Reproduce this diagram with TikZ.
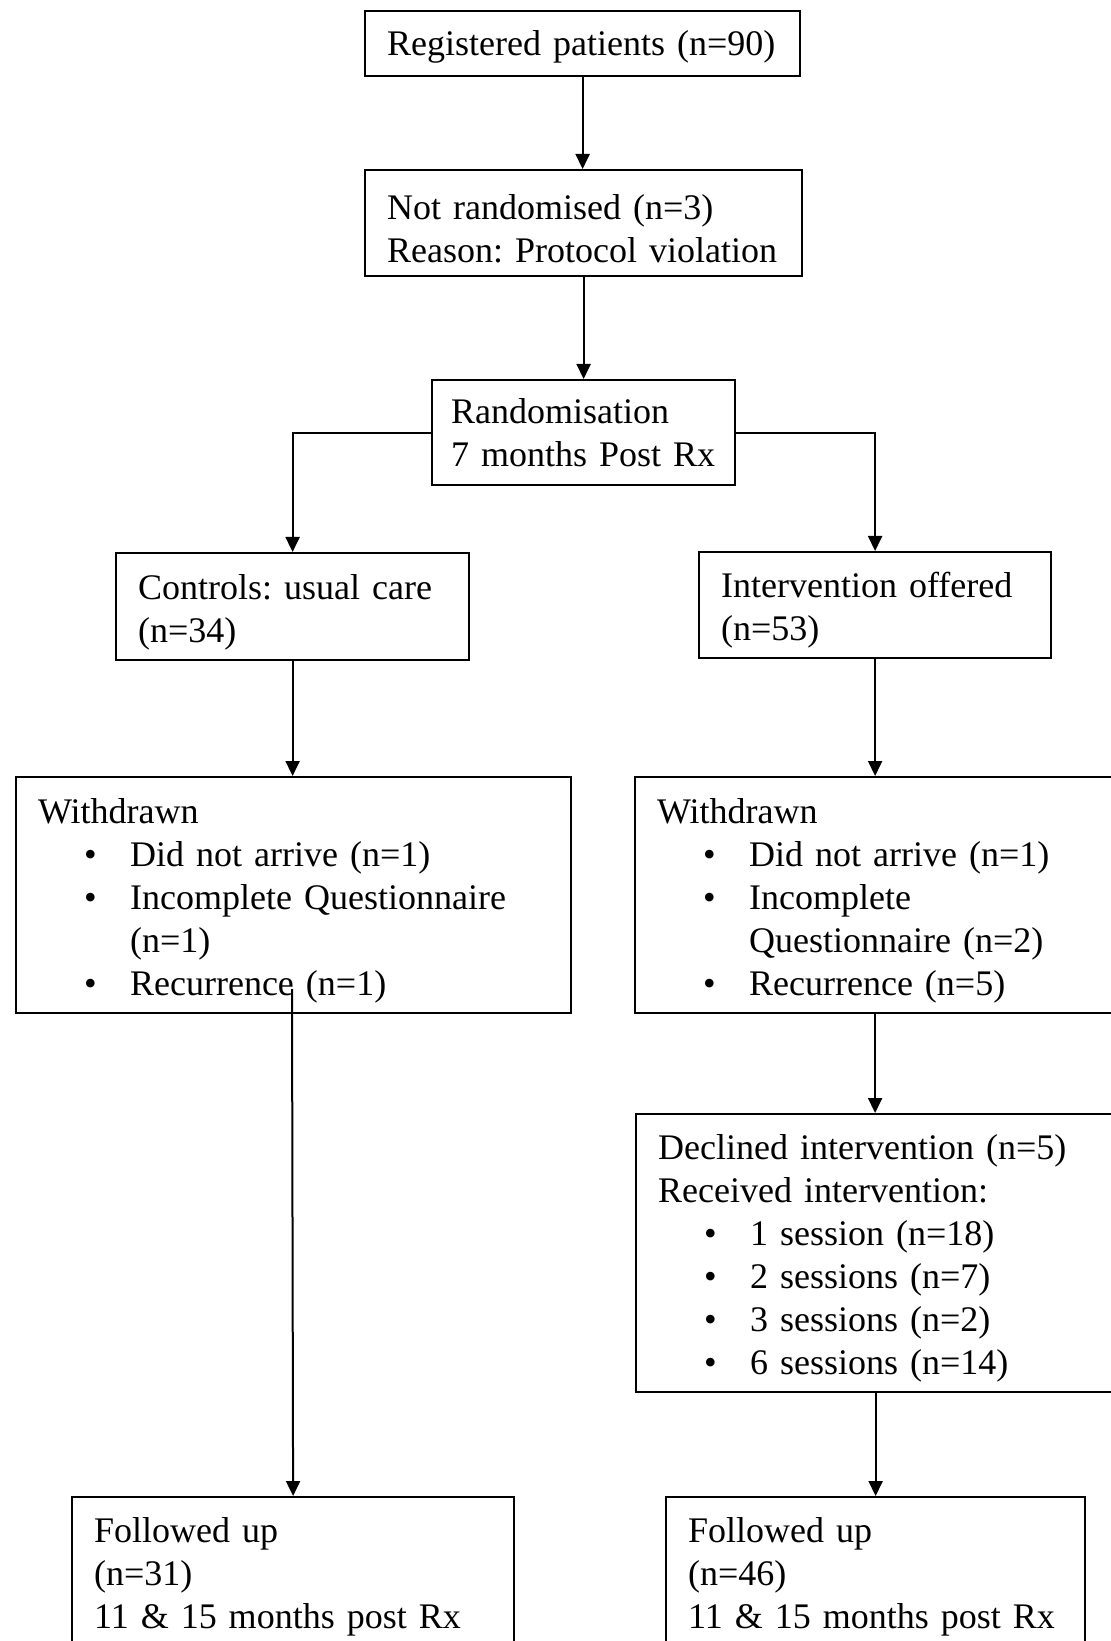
\documentclass[tikz,border=0pt]{standalone}
\usepackage{fontspec}
\setmainfont{Liberation Serif}
\usetikzlibrary{arrows.meta,positioning,calc}
\newcommand{\tstrut}{\rule{0pt}{18pt}}
\newcommand{\bul}[1]{\hspace*{23pt}\makebox[23pt][l]{\textbullet}#1}
\newcommand{\bulcont}[1]{\hspace*{46pt}#1}

\begin{document}
\begin{tikzpicture}[x=.5pt,y=-.5pt,
every node/.style={draw,rectangle,anchor=north west,line width=1.1pt,inner xsep=11pt,inner ysep=0pt,
align=left,font=\fontsize{18pt}{21.5pt}\selectfont\frenchspacing},
arr/.style={line width=1pt,-{Triangle[length=7.5pt,width=7pt]}}]
\useasboundingbox (0,0) rectangle (1110,1641);
\node[text width=195.5pt,minimum height=32.5pt] (reg) at (364,10) {\rule{0pt}{16pt}Registered patients (n=90)};
\node[text width=196.5pt,minimum height=53pt] (notrand) at (364,169) {\tstrut Not randomised (n=3)\\Reason: Protocol violation};
\node[text width=132.5pt,inner xsep=9.5pt,minimum height=52.5pt] (rand) at (431,379) {Randomisation\\\mbox{7 months Post Rx}};
\node[text width=154.5pt,minimum height=53.5pt] (ctrl) at (115,552) {\tstrut Controls: usual care\\(n=34)};
\node[text width=154pt,minimum height=53pt] (interv) at (698,551) {\tstrut Intervention offered\\(n=53)};
\node[text width=255.5pt,minimum height=118pt] (wdL) at (15,776) {\tstrut Withdrawn\\\bul{Did not arrive (n=1)}\\\bul{Incomplete Questionnaire}\\\bulcont{(n=1)}\\\bul{Recurrence (n=1)}};
\node[text width=223pt,minimum height=118pt] (wdR) at (634,776) {\tstrut Withdrawn\\\bul{Did not arrive (n=1)}\\\bul{Incomplete}\\\bulcont{Questionnaire (n=2)}\\\bul{Recurrence (n=5)}};
\node[text width=223pt,minimum height=139pt] (decl) at (635,1113) {\tstrut Declined intervention (n=5)\\Received intervention:\\\bul{1 session (n=18)}\\\bul{2 sessions (n=7)}\\\bul{3 sessions (n=2)}\\\bul{6 sessions (n=14)}};
\node[text width=199pt,minimum height=80pt] (fuL) at (71,1496) {Followed up\\(n=31)\\11 \& 15 months post Rx};
\node[text width=187.5pt,minimum height=80pt] (fuR) at (665,1496) {Followed up\\(n=46)\\11 \& 15 months post Rx};
\coordinate (wdLout) at (292,989);
\draw[arr] (reg.south) -- (reg.south |- notrand.north);
\draw[arr] (notrand.south) -- (notrand.south |- rand.north);
\draw[arr] (rand.west) -| (ctrl.north);
\draw[arr] (rand.east) -| (interv.north);
\draw[arr] (ctrl.south) -- (ctrl.south |- wdL.north);
\draw[arr] (interv.south) -- (interv.south |- wdR.north);
\draw[arr] (wdR.south -| interv.south) -- (decl.north -| interv.south);
\draw[arr] (decl.south -| fuR.north) -- (fuR.north);
\draw[arr] (wdLout) -- (fuL.north);
\end{tikzpicture}
\end{document}
